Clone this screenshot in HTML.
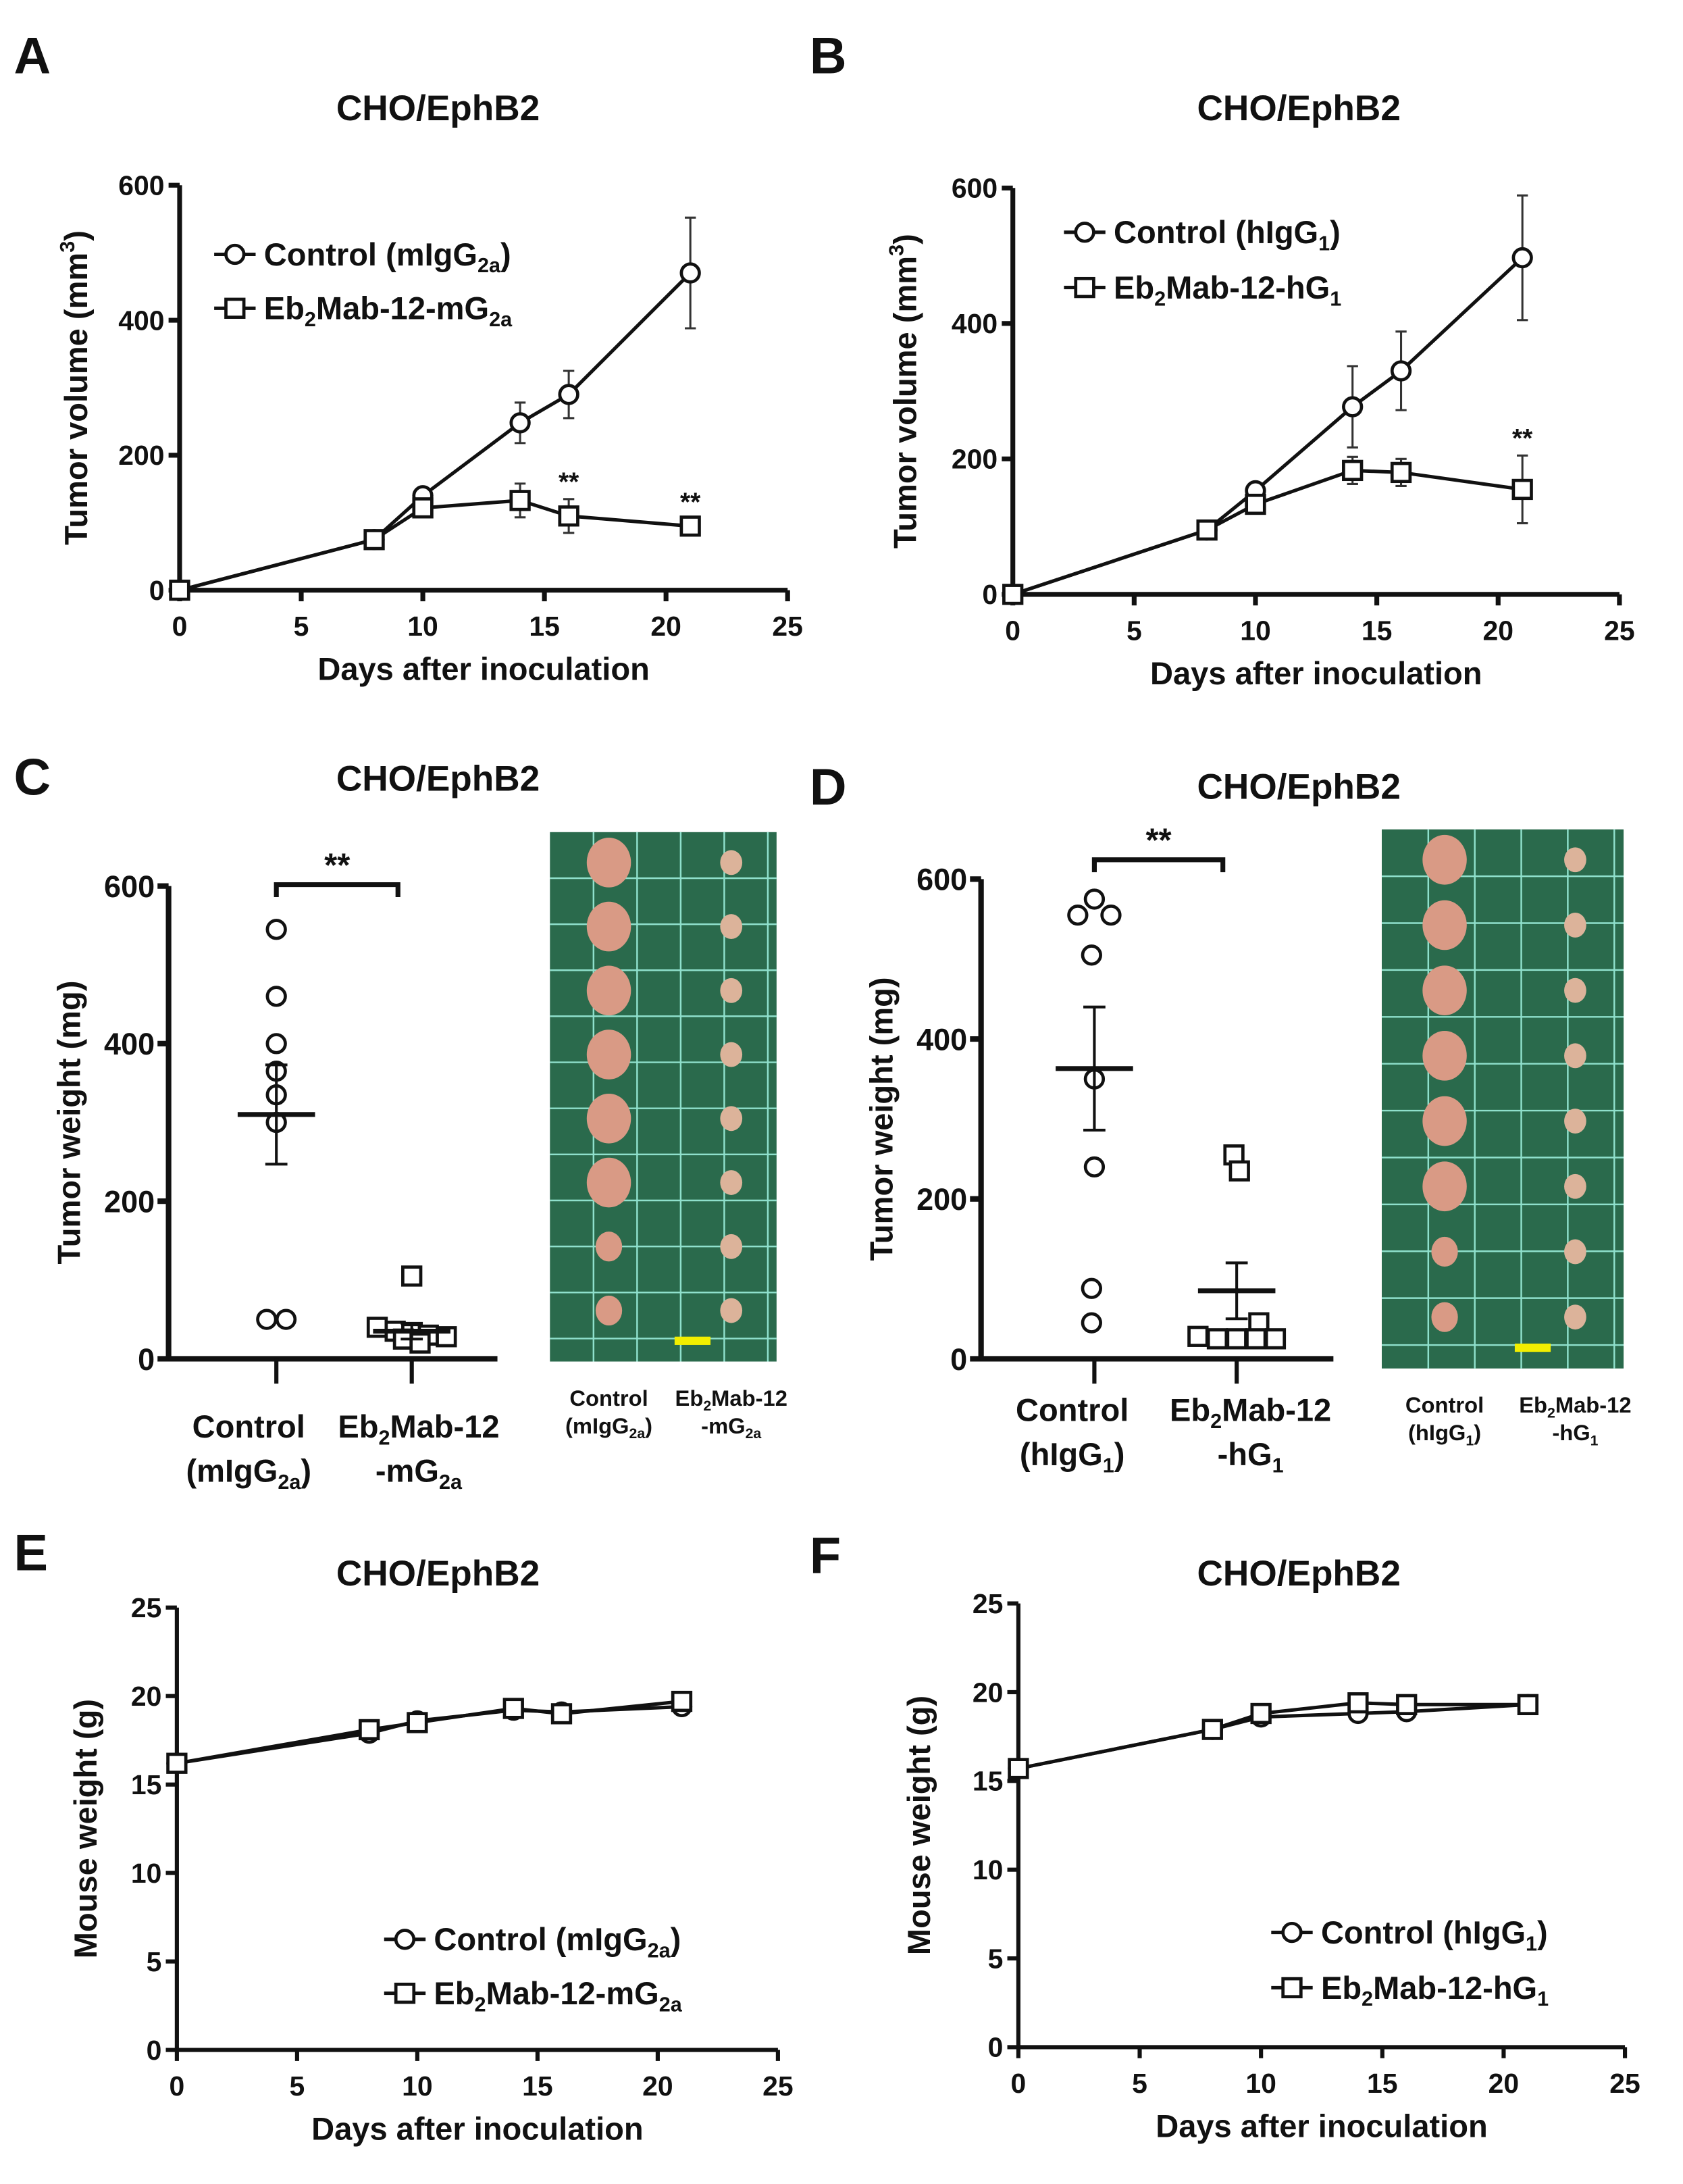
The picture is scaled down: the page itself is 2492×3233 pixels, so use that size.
<!DOCTYPE html>
<html><head><meta charset="utf-8">
<style>
html,body{margin:0;padding:0;background:#fff;}
svg{display:block;}
text{font-family:"Liberation Sans",Arial,sans-serif;font-weight:bold;fill:#111;}
</style></head>
<body>
<svg id="fig" width="2492" height="3233" viewBox="0 0 1218 1580" preserveAspectRatio="none" xmlns="http://www.w3.org/2000/svg">
<rect width="1218" height="1580" fill="#fff"/>
<g>
<text x="10" y="53" style="font-size:37px">A</text>
<text x="586" y="53" style="font-size:37px">B</text>
<text x="10" y="575" style="font-size:37px">C</text>
<text x="586" y="582" style="font-size:37px">D</text>
<text x="10" y="1136" style="font-size:37px">E</text>
<text x="586" y="1138" style="font-size:37px">F</text>
</g>
<g id="layer"></g>
</svg>
<script>
// ---- Panel A data ----
const daysA = [0, 8, 10, 14, 16, 21];
const ctrlA = [0, 75, 140, 248, 290, 470];
const ctrlErrA = [0, 0, 0, 30, 35, 82];
const trtA = [0, 75, 122, 133, 110, 95];
const trtErrA = [0, 0, 0, 25, 25, 10];
const starsA = [16, 21];
// ---- Panel B data ----
const daysB = [0, 8, 10, 14, 16, 21];
const ctrlB = [0, 95, 153, 277, 330, 497];
const ctrlErrB = [0, 0, 0, 60, 58, 92];
const trtB = [0, 95, 133, 183, 180, 155];
const trtErrB = [0, 0, 0, 20, 20, 50];
const starsB = [21];
// ---- Panel C data ----
const ctrlPtsC = [545, 460, 400, 365, 335, 300, 50, 50];
const trtPtsC = [105, 40, 35, 32, 30, 28, 25, 20];
const ctrlMeanC = 310, ctrlSemC = 63;
const trtMeanC = 35, trtSemC = 10;
// ---- Panel D data ----
const ctrlPtsD = [575, 555, 555, 505, 350, 240, 88, 45];
const trtPtsD = [255, 235, 45, 28, 25, 25, 25, 25];
const ctrlMeanD = 363, ctrlSemD = 77;
const trtMeanD = 85, trtSemD = 35;
// ---- Panel E data ----
const daysE = [0, 8, 10, 14, 16, 21];
const ctrlE = [16.2, 17.9, 18.6, 19.2, 19.1, 19.4];
const trtE = [16.2, 18.1, 18.5, 19.3, 19.0, 19.7];
// ---- Panel F data ----
const daysF = [0, 8, 10, 14, 16, 21];
const ctrlF = [15.7, 17.9, 18.6, 18.8, 18.9, 19.3];
const trtF = [15.7, 17.9, 18.8, 19.4, 19.3, 19.3];
const xTicks = [0, 5, 10, 15, 20, 25];
const yTicksVol = [0, 200, 400, 600];
const yTicksW = [0, 5, 10, 15, 20, 25];

const NS = "http://www.w3.org/2000/svg";
const layer = document.getElementById('layer');
function mk(tag, attrs, parent) {
  const e = document.createElementNS(NS, tag);
  for (const k in attrs) e.setAttribute(k, attrs[k]);
  (parent || layer).appendChild(e);
  return e;
}
function txt(parent, x, y, parts, size, anchor, name) {
  const t = mk('text', {x: x, y: y, 'text-anchor': anchor || 'middle'}, parent);
  t.style.fontSize = size + 'px';
  
  
  parts.forEach(p => {
    const s = mk('tspan', {}, t);
    if (p[1] === 'sub') { s.setAttribute('dy', size * 0.22); s.style.fontSize = (size * 0.65) + 'px'; }
    else if (p[1] === 'sup') { s.setAttribute('dy', -size * 0.4); s.style.fontSize = (size * 0.65) + 'px'; }
    s.textContent = p[0];
    if (p[1] === 'sub' || p[1] === 'sup') {
      const r = mk('tspan', {dy: p[1] === 'sub' ? -size * 0.22 : size * 0.4}, t);
      r.textContent = '\u200b';
    }
  });
  return t;
}
function marker(g, type, x, y, r) {
  let m;
  if (type === 'circle') m = mk('circle', {cx: x, cy: y, r: r, fill: '#fff', stroke: '#111', 'stroke-width': 2.3}, g);
  else m = mk('rect', {x: x - r, y: y - r, width: 2 * r, height: 2 * r, fill: '#fff', stroke: '#111', 'stroke-width': 2.3}, g);
  return m;
}

function lineChart(o) {
  const g = mk('g', {});
  
  
  const sx = v => o.x0 + (v - 0) / 25 * (o.x1 - o.x0);
  const sy = v => o.y0 - v / o.ymax * (o.y0 - o.y1);
  txt(g, o.tx, o.ty, [['CHO/EphB2']], 26, 'middle', 'chart-title');
  const ax = mk('path', {d: `M${o.x0} ${o.y1} V${o.y0} H${o.x1}`, fill: 'none', stroke: '#111', 'stroke-width': o.axw}, g);
  
  
  o.xt.forEach(v => {
    mk('line', {x1: sx(v), x2: sx(v), y1: o.y0, y2: o.y0 + 8, stroke: '#111', 'stroke-width': o.axw}, g);
    txt(g, sx(v), o.y0 + 33, [[String(v)]], 20, 'middle', 'x-tick-label');
  });
  o.yt.forEach(v => {
    mk('line', {x1: o.x0 - 8, x2: o.x0, y1: sy(v), y2: sy(v), stroke: '#111', 'stroke-width': o.axw}, g);
    txt(g, o.x0 - 11, sy(v) + 7, [[String(v)]], 20, 'end', 'y-tick-label');
  });
  txt(g, (o.x0 + o.x1) / 2, o.y0 + 65, [['Days after inoculation']], 23, 'middle', 'x-axis-title');
  const yl = txt(g, 0, 0, o.ylabel, 23, 'middle', 'y-axis-title');
  yl.setAttribute('transform', `translate(${o.ylx},${(o.y0 + o.y1) / 2}) rotate(-90)`);
  const series = [[o.ctrl, o.ctrlErr, 'circle', 'control-series'], [o.trt, o.trtErr, 'square', 'treatment-series']];
  series.forEach(s => {
    const sg = mk('g', {}, g);
    
    
    const pts = o.days.map((d, i) => sx(d) + ',' + sy(s[0][i])).join(' ');
    mk('polyline', {points: pts, fill: 'none', stroke: '#111', 'stroke-width': 2.5}, sg);
    o.days.forEach((d, i) => {
      if (s[1] && s[1][i] > 0) {
        const a = sy(s[0][i] + s[1][i]), b = sy(s[0][i] - s[1][i]);
        mk('line', {x1: sx(d), x2: sx(d), y1: a, y2: b, stroke: '#333', 'stroke-width': 1.5}, sg);
        mk('line', {x1: sx(d) - 4, x2: sx(d) + 4, y1: a, y2: a, stroke: '#333', 'stroke-width': 1.5}, sg);
        mk('line', {x1: sx(d) - 4, x2: sx(d) + 4, y1: b, y2: b, stroke: '#333', 'stroke-width': 1.5}, sg);
      }
      const m = marker(sg, s[2], sx(d), sy(s[0][i]), 6.5);
      
      
    });
  });
  (o.stars || []).forEach(d => {
    const i = o.days.indexOf(d);
    const top = o.trt[i] + (o.trtErr ? o.trtErr[i] : 0);
    txt(g, sx(d), sy(top) - 6, [['**']], 19, 'middle', 'significance-stars');
  });
  const lg = mk('g', {}, g);
  
  
  o.legend.forEach((L, k) => {
    const y = o.ly + k * o.lgap;
    const eg = mk('g', {}, lg);
    
    
    mk('line', {x1: o.lx, x2: o.lx + 30, y1: y, y2: y, stroke: '#111', 'stroke-width': 2.5}, eg);
    marker(eg, k === 0 ? 'circle' : 'square', o.lx + 15, y, 6.5);
    txt(eg, o.lx + 36, y + 8, L, 23, 'start', 'legend-label');
  });
}

const volLabel = [['Tumor volume (mm'], ['3', 'sup'], [')']];
lineChart({name: 'panel-a-tumor-volume', x0: 130, x1: 570, y0: 427, y1: 134, ymax: 600, xt: xTicks, yt: yTicksVol,
  tx: 317, ty: 87, ylx: 63, ylabel: volLabel, days: daysA, ctrl: ctrlA, ctrlErr: ctrlErrA, trt: trtA, trtErr: trtErrA, stars: starsA, axw: 3.5,
  lx: 155, ly: 184, lgap: 39, legend: [[['Control (mIgG'], ['2a', 'sub'], [')']], [['Eb'], ['2', 'sub'], ['Mab-12-mG'], ['2a', 'sub']]]});
lineChart({name: 'panel-b-tumor-volume', x0: 733, x1: 1172, y0: 430, y1: 136, ymax: 600, xt: xTicks, yt: yTicksVol,
  tx: 940, ty: 87, ylx: 663, ylabel: volLabel, days: daysB, ctrl: ctrlB, ctrlErr: ctrlErrB, trt: trtB, trtErr: trtErrB, stars: starsB, axw: 3.5,
  lx: 770, ly: 168, lgap: 40, legend: [[['Control (hIgG'], ['1', 'sub'], [')']], [['Eb'], ['2', 'sub'], ['Mab-12-hG'], ['1', 'sub']]]});
lineChart({name: 'panel-e-mouse-weight', x0: 128, x1: 563, y0: 1483, y1: 1163, ymax: 25, xt: xTicks, yt: yTicksW,
  tx: 317, ty: 1147, ylx: 70, ylabel: [['Mouse weight (g)']], days: daysE, ctrl: ctrlE, ctrlErr: null, trt: trtE, trtErr: null, axw: 3,
  lx: 278, ly: 1403, lgap: 39, legend: [[['Control (mIgG'], ['2a', 'sub'], [')']], [['Eb'], ['2', 'sub'], ['Mab-12-mG'], ['2a', 'sub']]]});
lineChart({name: 'panel-f-mouse-weight', x0: 737, x1: 1176, y0: 1481, y1: 1160, ymax: 25, xt: xTicks, yt: yTicksW,
  tx: 940, ty: 1147, ylx: 673, ylabel: [['Mouse weight (g)']], days: daysF, ctrl: ctrlF, ctrlErr: null, trt: trtF, trtErr: null, axw: 3,
  lx: 920, ly: 1398, lgap: 40, legend: [[['Control (hIgG'], ['1', 'sub'], [')']], [['Eb'], ['2', 'sub'], ['Mab-12-hG'], ['1', 'sub']]]});

function scatter(o) {
  const g = mk('g', {});
  
  
  const sy = v => o.y0 - v / 600 * (o.y0 - o.y1);
  txt(g, o.tx, o.ty, [['CHO/EphB2']], 26, 'middle', 'chart-title');
  mk('path', {d: `M${o.x0} ${o.y1} V${o.y0} H${o.x1}`, fill: 'none', stroke: '#111', 'stroke-width': 4}, g);
  yTicksVol.forEach(v => {
    mk('line', {x1: o.x0 - 8, x2: o.x0, y1: sy(v), y2: sy(v), stroke: '#111', 'stroke-width': 4}, g);
    txt(g, o.x0 - 10, sy(v) + 8, [[String(v)]], 22, 'end', 'y-tick-label');
  });
  const yl = txt(g, 0, 0, [['Tumor weight (mg)']], 23, 'middle', 'y-axis-title');
  yl.setAttribute('transform', `translate(${o.ylx},${(o.y0 + o.y1) / 2}) rotate(-90)`);
  [o.c1, o.c2].forEach(cx => mk('line', {x1: cx, x2: cx, y1: o.y0, y2: o.y0 + 18, stroke: '#111', 'stroke-width': 3}, g));
  const groups = [[o.ctrl, o.cm, o.cs, o.c1, 'circle', 'control-group', o.jc], [o.trt, o.tm, o.ts, o.c2, 'square', 'treatment-group', o.jt]];
  groups.forEach(G => {
    const sg = mk('g', {}, g);
    
    
    G[0].forEach((v, i) => {
      const m = marker(sg, G[4], G[3] + G[6][i], sy(v), 6.5);
      
      
    });
    mk('line', {x1: G[3] - 28, x2: G[3] + 28, y1: sy(G[1]), y2: sy(G[1]), stroke: '#111', 'stroke-width': 3.5}, sg);
    mk('line', {x1: G[3], x2: G[3], y1: sy(G[1] + G[2]), y2: sy(G[1] - G[2]), stroke: '#111', 'stroke-width': 2}, sg);
    [G[1] + G[2], G[1] - G[2]].forEach(v => mk('line', {x1: G[3] - 8, x2: G[3] + 8, y1: sy(v), y2: sy(v), stroke: '#111', 'stroke-width': 2}, sg));
  });
  const br = mk('path', {d: `M${o.c1} ${o.by + 9} V${o.by} H${o.c2 - 10} V${o.by + 9}`, fill: 'none', stroke: '#111', 'stroke-width': 3.5}, g);
  
  
  txt(g, (o.c1 + o.c2 - 10) / 2, o.by - 6, [['**']], 24, 'middle', 'significance-stars');
  txt(g, o.lc1, o.ly1, [['Control']], 23, 'middle', 'x-category-label');
  txt(g, o.lc1, o.ly2, o.cl2, 23, 'middle', 'x-category-label');
  txt(g, o.lc2, o.ly1, [['Eb'], ['2', 'sub'], ['Mab-12']], 23, 'middle', 'x-category-label');
  txt(g, o.lc2, o.ly2, o.tl2, 23, 'middle', 'x-category-label');
  const pg = mk('g', {}, g);
  
  
  mk('rect', {x: o.px, y: o.py, width: o.pw, height: o.ph, fill: '#2a6a4c'}, pg);
  for (let k = 1; k < 6; k++) mk('line', {x1: o.px + k * o.pw / 5.2, x2: o.px + k * o.pw / 5.2, y1: o.py, y2: o.py + o.ph, stroke: '#8fe0cc', 'stroke-width': 1.2}, pg);
  for (let k = 1; k < 12; k++) mk('line', {x1: o.px, x2: o.px + o.pw, y1: o.py + k * o.ph / 11.5, y2: o.py + k * o.ph / 11.5, stroke: '#8fe0cc', 'stroke-width': 1.2}, pg);
  for (let k = 0; k < 8; k++) {
    const yy = o.py + 22 + k * (o.ph - 45) / 7.3;
    const big = k < 6 ? 1 : 0.6;
    mk('ellipse', {cx: o.px + o.pw * 0.26, cy: yy, rx: 16 * big, ry: 18 * big, fill: '#d99a85'}, pg);
    mk('ellipse', {cx: o.px + o.pw * 0.8, cy: yy, rx: 8, ry: 9, fill: '#dcb39a'}, pg);
  }
  mk('rect', {x: o.px + o.pw * 0.55, y: o.py + o.ph - 18, width: 26, height: 6, fill: '#f2ee00'}, pg);
  txt(g, o.px + o.pw * 0.26, o.py + o.ph + 32, [['Control']], 16, 'middle', 'photo-label');
  txt(g, o.px + o.pw * 0.26, o.py + o.ph + 52, o.pl2, 16, 'middle', 'photo-label');
  txt(g, o.px + o.pw * 0.8, o.py + o.ph + 32, [['Eb'], ['2', 'sub'], ['Mab-12']], 16, 'middle', 'photo-label');
  txt(g, o.px + o.pw * 0.8, o.py + o.ph + 52, o.pt2, 16, 'middle', 'photo-label');
}
scatter({name: 'panel-c-tumor-weight', x0: 122, x1: 360, y0: 983, y1: 641, c1: 200, c2: 298, lc1: 180, lc2: 303, ctrl: ctrlPtsC, trt: trtPtsC,
  jc: [0, 0, 0, 0, 0, 0, -7, 7], jt: [0, -25, -12, 0, 12, 25, -6, 6],
  cm: ctrlMeanC, cs: ctrlSemC, tm: trtMeanC, ts: trtSemC, tx: 317, ty: 572, ylx: 58, by: 640,
  ly1: 1040, ly2: 1072, cl2: [['(mIgG'], ['2a', 'sub'], [')']], tl2: [['-mG'], ['2a', 'sub']],
  px: 398, py: 602, pw: 164, ph: 383, pl2: [['(mIgG'], ['2a', 'sub'], [')']], pt2: [['-mG'], ['2a', 'sub']]});
scatter({name: 'panel-d-tumor-weight', x0: 710, x1: 965, y0: 983, y1: 636, c1: 792, c2: 895, lc1: 776, lc2: 905, ctrl: ctrlPtsD, trt: trtPtsD,
  jc: [0, -12, 12, -2, 0, 0, -2, -2], jt: [-2, 2, 16, -28, -14, 0, 14, 28],
  cm: ctrlMeanD, cs: ctrlSemD, tm: trtMeanD, ts: trtSemD, tx: 940, ty: 578, ylx: 646, by: 622,
  ly1: 1028, ly2: 1060, cl2: [['(hIgG'], ['1', 'sub'], [')']], tl2: [['-hG'], ['1', 'sub']],
  px: 1000, py: 600, pw: 175, ph: 390, pl2: [['(hIgG'], ['1', 'sub'], [')']], pt2: [['-hG'], ['1', 'sub']]});
</script>
</body></html>
